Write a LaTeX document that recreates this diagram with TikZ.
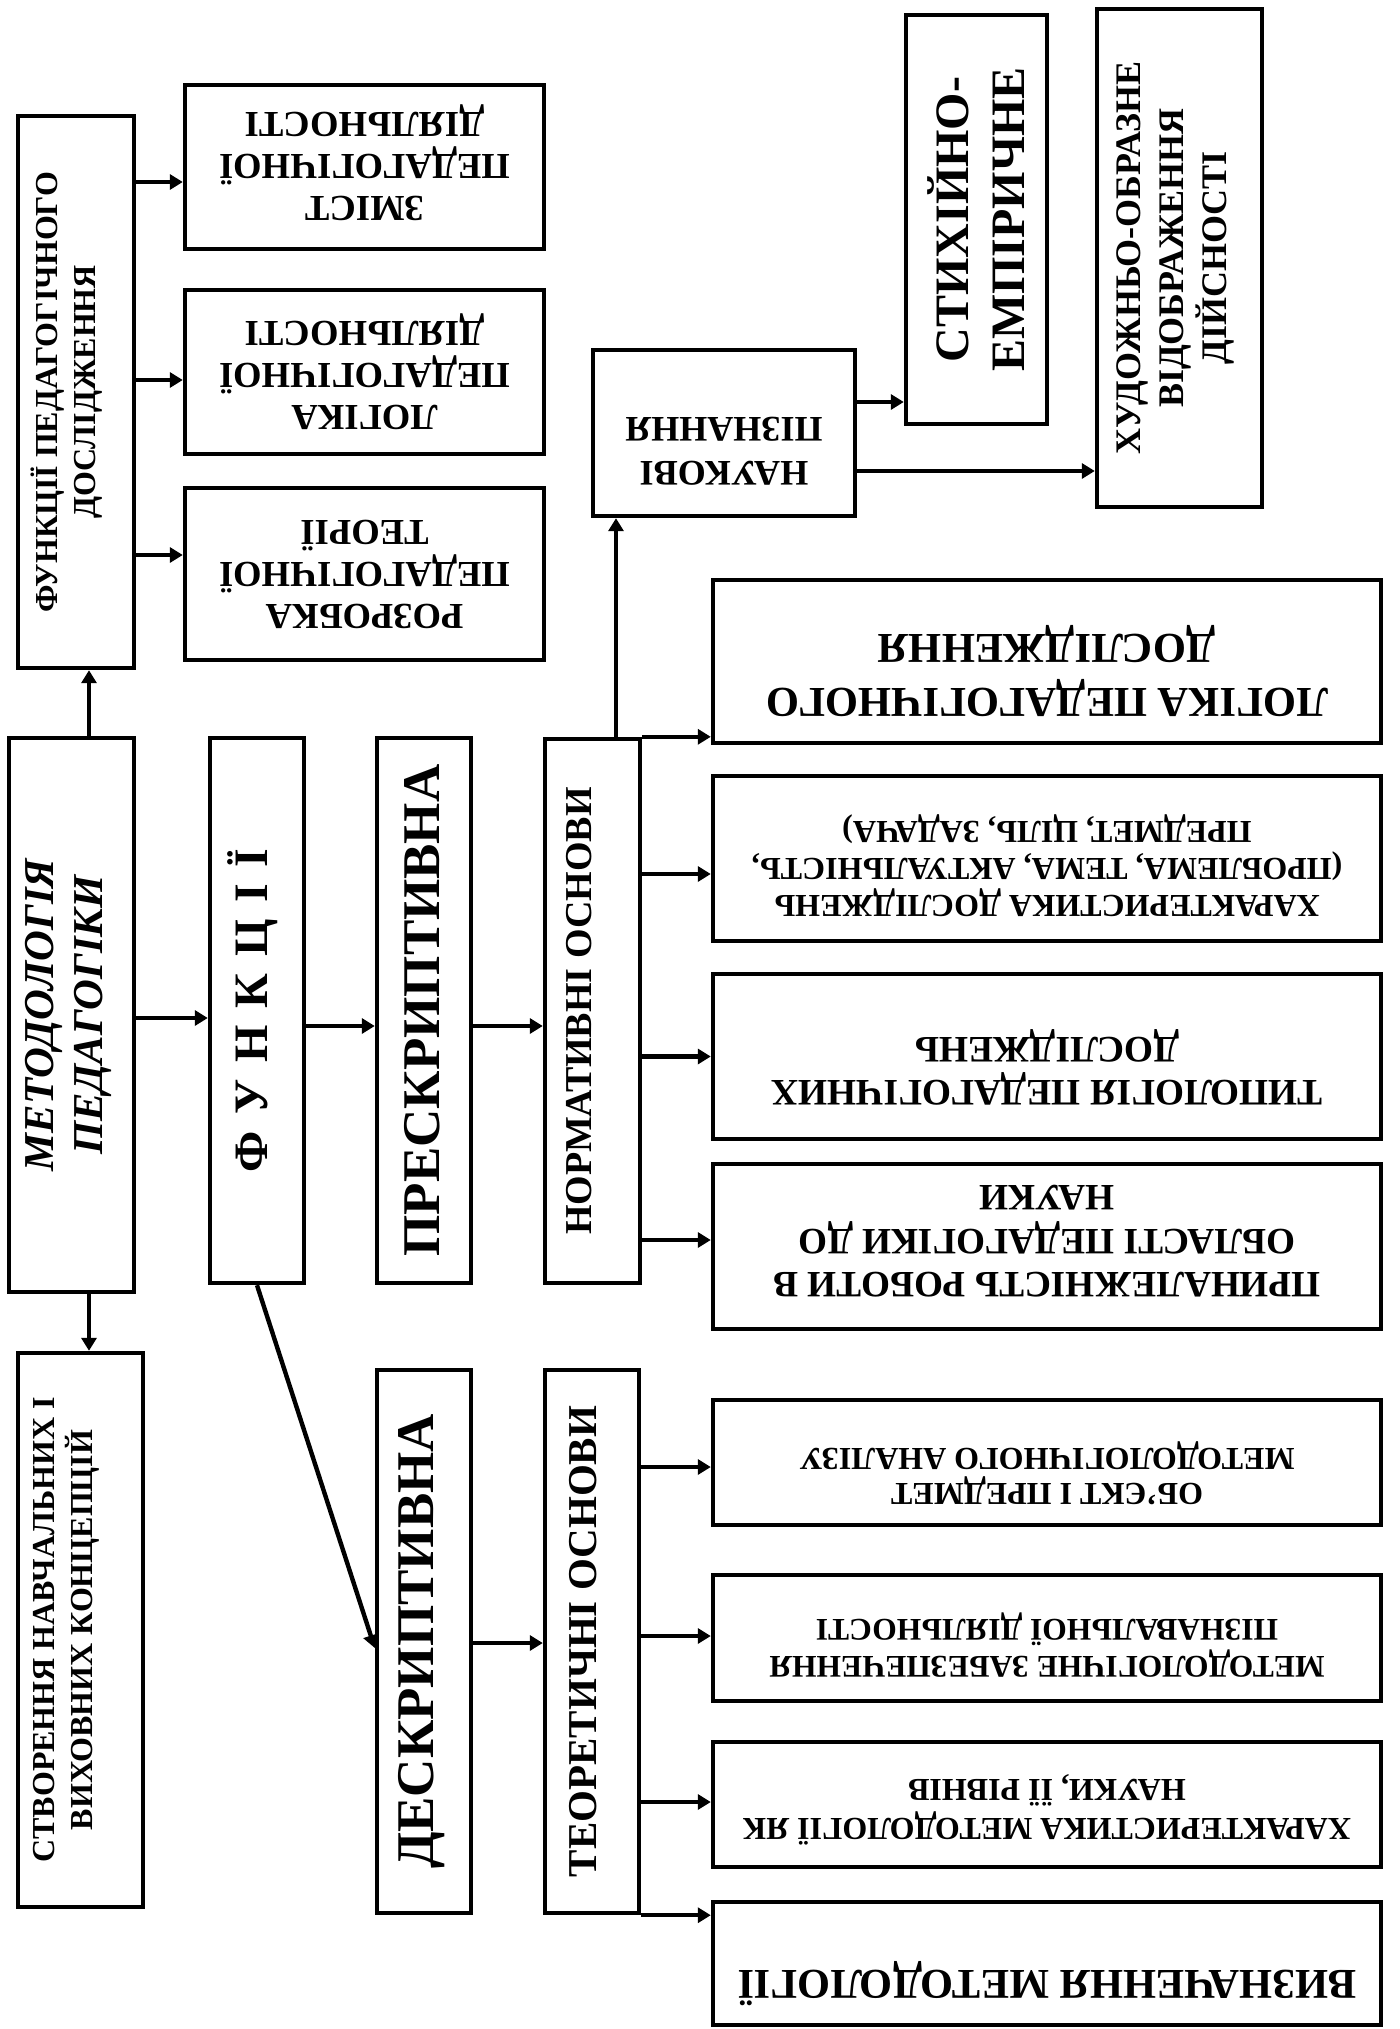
\documentclass[tikz,border=0pt]{standalone}
\usepackage{fontspec}
\setmainfont{Liberation Serif}
\usetikzlibrary{arrows.meta}
\newcommand\fs[2]{\fontsize{#1}{#2}\selectfont\bfseries}
\newcommand\gp{\hspace{0.35em}}
\tikzset{
  box/.style={draw, line width=2.2pt, inner sep=0pt},
  arr/.style={line width=2.2pt, -{Triangle[length=6.5pt,width=7.5pt]}},
  txt/.style={align=center, inner sep=0pt},
}
\begin{document}
\begin{tikzpicture}[x=0.5pt,y=-0.5pt]
\fill[white] (0,0) rectangle (1399,2029);
\useasboundingbox (0,0) rectangle (1399,2029);

% left top column
\node[box, minimum width=58pt, minimum height=276pt,
  label={[txt, font=\fs{16}{19}, xshift=-4.5pt, rotate=90]center:{ФУНКЦІЇ ПЕДАГОГІЧНОГО\\ДОСЛІДЖЕННЯ}}] (fpd) at (76,392) {};
\node[box, minimum width=179.5pt, minimum height=82pt,
  label={[txt, font=\fs{18.3}{21}, yshift=2pt, rotate=180]center:{ЗМІСТ\\ПЕДАГОГІЧНОЇ\\ДІЯЛЬНОСТІ}}] (zmist) at (364.5,167) {};
\node[box, minimum width=179.5pt, minimum height=82pt,
  label={[txt, font=\fs{18.3}{21}, rotate=180]center:{ЛОГІКА\\ПЕДАГОГІЧНОЇ\\ДІЯЛЬНОСТІ}}] (logd) at (364.5,372) {};
\node[box, minimum width=179.5pt, minimum height=86pt,
  label={[txt, font=\fs{18.3}{21}, rotate=180]center:{РОЗРОБКА\\ПЕДАГОГІЧНОЇ\\ТЕОРІЇ}}] (rozr) at (364.5,574) {};

% main row
\node[box, minimum width=62.5pt, minimum height=277pt,
  label={[txt, font=\fontsize{21.3}{24.5}\selectfont\bfseries\itshape, xshift=-1.5pt, rotate=90]center:{МЕТОДОЛОГІЯ\\ПЕДАГОГІКИ}}] (meth) at (71.5,1015) {};
\node[box, minimum width=47pt, minimum height=272.5pt,
  label={[txt, font=\fs{24}{28}, xshift=-2pt, rotate=90]center:{Ф\gp У\gp Н\gp К\gp Ц\gp І\gp Ї}}] (funk) at (257,1010.5) {};
\node[box, minimum width=47pt, minimum height=272.5pt,
  label={[txt, font=\fs{26.5}{30}, xshift=-1pt, rotate=90]center:{ПРЕСКРИПТИВНА}}] (presk) at (424,1010.5) {};
\node[box, minimum width=47.5pt, minimum height=272pt,
  label={[txt, font=\fs{19}{22}, xshift=-6.5pt, rotate=90]center:{НОРМАТИВНІ ОСНОВИ}}] (norm) at (592.5,1011) {};

% lower row
\node[box, minimum width=62.5pt, minimum height=277pt,
  label={[txt, font=\fs{16}{19}, xshift=-7pt, rotate=90]center:{СТВОРЕННЯ НАВЧАЛЬНИХ І\\ВИХОВНИХ КОНЦЕПЦІЙ}}] (stvor) at (80.5,1630) {};
\node[box, minimum width=47pt, minimum height=271.5pt,
  label={[txt, font=\fs{26.5}{30}, xshift=-1pt, rotate=90]center:{ДЕСКРИПТИВНА}}] (deskr) at (424,1641.5) {};
\node[box, minimum width=47pt, minimum height=271.5pt,
  label={[txt, font=\fs{20.5}{24}, xshift=-4.5pt, rotate=90]center:{ТЕОРЕТИЧНІ ОСНОВИ}}] (teor) at (592,1641.5) {};

% upper right
\node[box, minimum width=131pt, minimum height=83pt,
  label={[txt, font=\fs{18}{22}, yshift=-9pt, rotate=180]center:{НАУКОВІ\\ПІЗНАННЯ}}] (nauk) at (724,433) {};
\node[box, minimum width=70.5pt, minimum height=204.5pt,
  label={[txt, font=\fs{24}{28}, rotate=90]center:{СТИХІЙНО-\\ЕМПІРИЧНЕ}}] (styx) at (976.5,219.5) {};
\node[box, minimum width=82.5pt, minimum height=249pt,
  label={[txt, font=\fs{18}{21.5}, xshift=-2pt, rotate=90]center:{ХУДОЖНЬО-ОБРАЗНЕ\\ВІДОБРАЖЕННЯ\\ДІЙСНОСТІ}}] (hud) at (1179.5,258) {};

% right column
\node[box, minimum width=334pt, minimum height=81.5pt,
  label={[txt, font=\fs{21.3}{27}, yshift=-5pt, rotate=180]center:{ЛОГІКА ПЕДАГОГІЧНОГО\\ДОСЛІДЖЕННЯ}}] (r1) at (1047,661.5) {};
\node[box, minimum width=334pt, minimum height=82.5pt,
  label={[txt, font=\fs{16}{18.5}, yshift=-3.5pt, rotate=180]center:{ХАРАКТЕРИСТИКА ДОСЛІДЖЕНЬ\\(ПРОБЛЕМА, ТЕМА, АКТУАЛЬНІСТЬ,\\ПРЕДМЕТ, ЦІЛЬ, ЗАДАЧА)}}] (r2) at (1047,858.5) {};
\node[box, minimum width=334pt, minimum height=82.5pt,
  label={[txt, font=\fs{18.7}{21.7}, yshift=-5.5pt, rotate=180]center:{ТИПОЛОГІЯ ПЕДАГОГІЧНИХ\\ДОСЛІДЖЕНЬ}}] (r3) at (1047,1056.5) {};
\node[box, minimum width=334pt, minimum height=82.5pt,
  label={[txt, font=\fs{18.6}{21.7}, yshift=2.5pt, rotate=180]center:{ПРИНАЛЕЖНІСТЬ РОБОТИ В\\ОБЛАСТІ ПЕДАГОГІКИ ДО\\НАУКИ}}] (r4) at (1047,1246.5) {};
\node[box, minimum width=334pt, minimum height=62.5pt,
  label={[txt, font=\fs{16}{17.5}, yshift=-5.5pt, rotate=180]center:{ОБ’ЄКТ І ПРЕДМЕТ\\МЕТОДОЛОГІЧНОГО АНАЛІЗУ}}] (r5) at (1047,1462.5) {};
\node[box, minimum width=334pt, minimum height=63pt,
  label={[txt, font=\fs{15.75}{18.5}, yshift=-3.5pt, rotate=180]center:{МЕТОДОЛОГІЧНЕ ЗАБЕЗПЕЧЕННЯ\\ПІЗНАВАЛЬНОЇ ДІЯЛЬНОСТІ}}] (r6) at (1047,1638) {};
\node[box, minimum width=334pt, minimum height=62.5pt,
  label={[txt, font=\fs{16}{19.5}, yshift=-2.5pt, rotate=180]center:{ХАРАКТЕРИСТИКА МЕТОДОЛОГІЇ ЯК\\НАУКИ, ЇЇ РІВНІВ}}] (r7) at (1047,1804.5) {};
\node[box, minimum width=334pt, minimum height=61.5pt,
  label={[txt, font=\fs{21.2}{25}, yshift=-10pt, rotate=180]center:{ВИЗНАЧЕННЯ МЕТОДОЛОГІЇ}}] (r8) at (1047,1963.5) {};

% connectors
\coordinate (z1) at ([yshift=-7.5pt]zmist.west);
\coordinate (z2) at ([yshift=-4pt]logd.west);
\coordinate (z3) at ([yshift=9.5pt]rozr.west);
\draw[arr] (z1 -| fpd.east) -- (z1);
\draw[arr] (z2 -| fpd.east) -- (z2);
\draw[arr] (z3 -| fpd.east) -- (z3);

\coordinate (m1) at ([xshift=8.75pt]meth.north);
\coordinate (m2) at ([xshift=8.75pt]meth.south);
\coordinate (m3) at ([yshift=-1.5pt]meth.east);
\draw[arr] (m1) -- (m1 |- fpd.south);
\draw[arr] (m2) -- (m2 |- stvor.north);
\draw[arr] (m3) -- (m3 -| funk.west);

\coordinate (f1) at ([yshift=-7.75pt]funk.east);
\coordinate (p1) at ([yshift=-7.75pt]presk.east);
\draw[arr] (f1) -- (f1 -| presk.west);
\draw[arr] (p1) -- (p1 -| norm.west);

\coordinate (n0) at ([xshift=11.75pt]norm.north);
\draw[arr] (n0) -- (n0 |- nauk.south);
\coordinate (k1) at ([yshift=15.5pt]nauk.east);
\coordinate (k2) at ([yshift=-19pt]nauk.east);
\draw[arr] (k1) -- (k1 -| styx.west);
\draw[arr] (k2) -- (k2 -| hud.west);

\draw[arr] (norm.north east) -- (norm.north east -| r1.west);
\coordinate (n2) at ([yshift=-7.75pt]r2.west);
\coordinate (n4) at ([yshift=3.25pt]r4.west);
\draw[arr] (n2 -| norm.east) -- (n2);
\draw[arr] (r3.west -| norm.east) -- (r3.west);
\draw[arr] (n4 -| norm.east) -- (n4);

\coordinate (d0) at ([yshift=-3.25pt]deskr.west);
\draw[arr] (funk.south) -- (d0);
\coordinate (d1) at ([yshift=-0.75pt]deskr.east);
\draw[arr] (d1) -- (d1 -| teor.west);

\coordinate (t5) at ([yshift=-2.25pt]r5.west);
\coordinate (t6) at ([yshift=1pt]r6.west);
\coordinate (t7) at ([yshift=1.25pt]r7.west);
\draw[arr] (t5 -| teor.east) -- (t5);
\draw[arr] (t6 -| teor.east) -- (t6);
\draw[arr] (t7 -| teor.east) -- (t7);
\draw[arr] (teor.south east) -- (teor.south east -| r8.west);
\end{tikzpicture}
\end{document}
